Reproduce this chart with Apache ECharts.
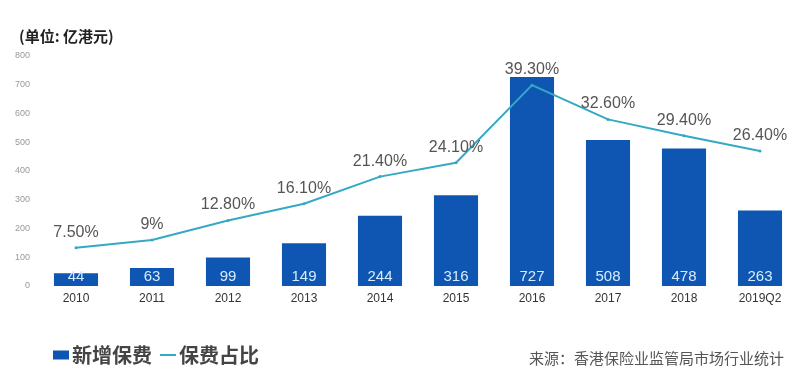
<!DOCTYPE html>
<html><head><meta charset="utf-8">
<script src="https://cdn.jsdelivr.net/npm/echarts@6/dist/echarts.min.js"></script>
<style>html,body{margin:0;padding:0;background:#fff}#c{width:800px;height:374px}</style>
</head><body><div id="c"></div>
<script>
const categories = ['2010','2011','2012','2013','2014','2015','2016','2017','2018','2019Q2'];
const premiums = [44, 63, 99, 149, 244, 316, 727, 508, 478, 263];
const shares = [7.5, 9, 12.8, 16.1, 21.4, 24.1, 39.3, 32.6, 29.4, 26.4];
const shareLabels = ['7.50%','9%','12.80%','16.10%','21.40%','24.10%','39.30%','32.60%','29.40%','26.40%'];
const yTicks = [0,100,200,300,400,500,600,700,800];

const chart = echarts.init(document.getElementById('c'));
chart.setOption({
  animation:false,
  textStyle:{fontFamily:'"Noto Sans CJK SC", "Liberation Sans", sans-serif'},
  title:[
    {text:'(单位: 亿港元)', left:14, top:24, textStyle:{fontSize:15, fontWeight:'bold', color:'#222'}},
    {text:'来源：香港保险业监管局市场行业统计', left:524, top:346, textStyle:{fontSize:15, fontWeight:'normal', color:'#555'}}
  ],
  legend:{left:48, top:340, itemWidth:16, itemHeight:9, itemGap:8,
    textStyle:{fontSize:20, fontWeight:'bold', color:'#444', padding:[0,0,0,-2]},
    data:[{name:'新增保费', icon:'rect'},
          {name:'保费占比', icon:'path://M0,3.5H16V5.5H0Z M0,0H0.01V0.01Z M16,9H16.01V9.01Z'}]},
  grid:{left:38, right:2, top:56, bottom:88},
  xAxis:{type:'category', data:categories,
    axisLine:{show:false}, axisTick:{show:false},
    axisLabel:{fontSize:12, color:'#333', margin:7, interval:0, fontFamily:'"Liberation Sans", Arial, sans-serif'}},
  yAxis:[
    {type:'value', min:yTicks[0], max:yTicks[yTicks.length-1], interval:100,
      splitLine:{show:false}, axisLine:{show:false}, axisTick:{show:false},
      axisLabel:{fontSize:9, color:'#999', margin:8, fontFamily:'"Liberation Sans", Arial, sans-serif'}},
    {type:'value', min:0, max:45, show:false, splitLine:{show:false}}
  ],
  series:[
    {name:'新增保费', type:'bar', data:premiums, barWidth:'58%',
      itemStyle:{color:'#0f56b3'},
      label:{show:true, position:'insideBottom', distance:2, color:'#d6ecff', fontSize:15,
        fontFamily:'"Liberation Sans", Arial, sans-serif'}},
    {name:'保费占比', type:'line', yAxisIndex:1, data:shares,
      symbol:'circle', symbolSize:3, showSymbol:true,
      lineStyle:{color:'#35a9c4', width:2}, itemStyle:{color:'#35a9c4'},
      label:{show:true, position:'top', distance:6, color:'#555', fontSize:16,
        fontFamily:'"Liberation Sans", Arial, sans-serif',
        formatter:p=>shareLabels[p.dataIndex]}}
  ]
});
</script></body></html>
